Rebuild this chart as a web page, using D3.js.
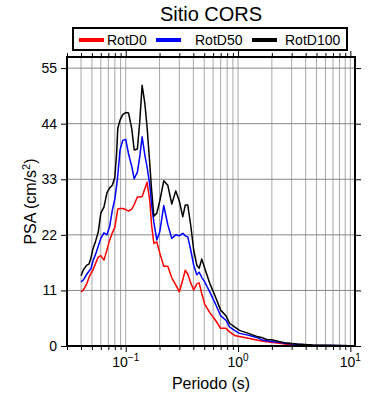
<!DOCTYPE html>
<html>
<head>
<meta charset="utf-8">
<script src="https://cdn.jsdelivr.net/npm/d3@7"></script>
<style>
body { margin: 0; background: #fff; }
text { font-family: "Liberation Sans", Arial, sans-serif; }
</style>
</head>
<body>
<script>
// periodos (s) y PSA (cm/s2)
var periods = [0.040, 0.042, 0.045, 0.047, 0.049, 0.051, 0.054, 0.057, 0.060, 0.064,
    0.068, 0.072, 0.076, 0.080, 0.083, 0.085, 0.089, 0.094, 0.100, 0.106,
    0.113, 0.119, 0.127, 0.133, 0.140, 0.148, 0.155, 0.164, 0.170, 0.178,
    0.189, 0.201, 0.218, 0.237, 0.257, 0.279, 0.300, 0.322, 0.339, 0.357,
    0.379, 0.403, 0.429, 0.451, 0.475, 0.505, 0.56, 0.63, 0.70, 0.78,
    0.84, 0.93, 1.03, 1.2, 1.47, 1.62, 1.8, 2.04, 2.35, 2.6,
    3.33, 4.6, 6.5, 10];

var rotd0 = [10.7, 11.1, 12.3, 13.5, 14.4, 15.0, 16.4, 17.6, 17.9, 17.0,
    19.0, 21.0, 22.4, 23.5, 25.7, 27.1, 27.2, 27.2, 27.0, 26.7,
    27.1, 28.0, 29.5, 29.5, 29.6, 31.1, 32.4, 28.6, 23.9, 20.3,
    20.6, 18.4, 15.8, 15.8, 13.5, 12.1, 10.7, 13.1, 15.0, 14.2,
    12.5, 11.1, 12.3, 12.5, 10.4, 8.3, 6.6, 5.1, 3.5, 3.5,
    2.8, 2.1, 1.9, 1.6, 1.2, 1.0, 0.85, 0.7, 0.53, 0.4,
    0.16, 0.08, 0.04, 0.02];

var rotd50 = [12.7, 13.1, 14.2, 14.8, 15.3, 16.8, 18.2, 19.8, 21.3, 22.4,
    22.0, 23.7, 26.9, 29.1, 31.7, 33.8, 38.8, 40.7, 40.9, 38.0,
    35.6, 33.1, 34.4, 37.3, 41.4, 37.8, 35.4, 31.8, 27.9, 24.5,
    21.0, 22.6, 27.8, 24.0, 21.3, 22.0, 21.8, 22.3, 21.8, 21.6,
    19.0, 16.0, 14.1, 14.6, 13.6, 12.7, 10.7, 8.3, 6.0, 5.1,
    3.8, 3.1, 2.5, 2.2, 1.7, 1.25, 1.05, 0.85, 0.73, 0.53,
    0.34, 0.14, 0.08, 0.04];

var rotd100 = [13.9, 15.1, 16.0, 16.2, 17.4, 19.2, 20.8, 22.6, 26.3, 27.5,
    30.3, 31.3, 31.8, 33.4, 38.2, 43.1, 44.7, 45.8, 46.2, 46.1,
    43.1, 38.8, 39.0, 44.1, 51.6, 48.0, 43.3, 35.8, 30.9, 25.7,
    26.3, 28.7, 32.7, 31.8, 28.1, 30.7, 28.7, 25.6, 27.9, 27.9,
    23.9, 19.0, 16.0, 15.4, 17.2, 15.4, 12.4, 9.7, 7.1, 6.0,
    4.5, 3.8, 3.1, 2.6, 1.9, 1.7, 1.3, 1.2, 0.85, 0.65,
    0.4, 0.2, 0.14, 0.06];

var seriesNames = ["RotD0", "RotD50", "RotD100"];
var seriesColors = ["red", "blue", "black"];
var yTicks = [0, 11, 22, 33, 44, 55];
var xMajor = [0.1, 1, 10];
var xMajorExp = ["\u22121", "0", "1"];

var W = 390, H = 400;
var pL = 67, pR = 355, pT = 57, pB = 346;

var svg = d3.select("body").append("svg")
    .attr("width", W)
    .attr("height", H);

var x = d3.scaleLog().domain([0.03, 11]).range([pL, pR]);
var y = d3.scaleLinear().domain([0, 57.2]).range([pB, pT]);

// todas las divisiones de la escala log
var xMinor = [];
[0.01, 0.1, 1, 10].forEach(function(dec) {
    for (var k = 1; k <= 9; k++) {
        var v = +(dec * k).toPrecision(3);
        if (v >= 0.03 && v <= 11) xMinor.push(v);
    }
});

// grilla
svg.append("g").selectAll("line")
    .data(xMinor)
    .enter().append("line")
    .attr("x1", function(d) { return x(d); })
    .attr("x2", function(d) { return x(d); })
    .attr("y1", pT)
    .attr("y2", pB)
    .attr("stroke", "#a8a8a8")
    .attr("stroke-width", 1);

svg.append("g").selectAll("line")
    .data(yTicks.slice(1))
    .enter().append("line")
    .attr("x1", pL)
    .attr("x2", pR)
    .attr("y1", function(d) { return y(d); })
    .attr("y2", function(d) { return y(d); })
    .attr("stroke", "#888")
    .attr("stroke-width", 1);

// curvas
var line = d3.line()
    .x(function(d) { return x(d[0]); })
    .y(function(d) { return y(d[1]); });

[rotd0, rotd50, rotd100].forEach(function(vals, i) {
    svg.append("path")
        .datum(periods.map(function(p, j) { return [p, vals[j]]; }))
        .attr("d", line)
        .attr("fill", "none")
        .attr("stroke", seriesColors[i])
        .attr("stroke-width", 1.5)
        .attr("stroke-linejoin", "round");
});

// ejes
function isMajor(d) { return xMajor.indexOf(d) >= 0; }

var gx = svg.append("g")
    .attr("transform", "translate(0," + pB + ")")
    .call(d3.axisBottom(x).tickValues(xMinor).tickSize(4).tickFormat(""));
var gxt = svg.append("g")
    .attr("transform", "translate(0," + pT + ")")
    .call(d3.axisTop(x).tickValues(xMinor).tickSize(4).tickFormat(""));
[gx, gxt].forEach(function(g) {
    g.select(".domain").remove();
    g.selectAll(".tick line")
        .attr("stroke", "#000")
        .attr("y2", function(d) {
            var s = g === gx ? 1 : -1;
            return s * (isMajor(d) ? 6 : 4);
        });
});

var gy = svg.append("g")
    .attr("transform", "translate(" + pL + ",0)")
    .call(d3.axisLeft(y).tickValues(yTicks).tickSize(6).tickPadding(4));
var gyr = svg.append("g")
    .attr("transform", "translate(" + pR + ",0)")
    .call(d3.axisRight(y).tickValues(yTicks).tickSize(6).tickFormat(""));
[gy, gyr].forEach(function(g) {
    g.select(".domain").remove();
    g.selectAll(".tick line").attr("stroke", "#000");
});
gy.selectAll(".tick text")
    .attr("font-family", "Liberation Sans, Arial, sans-serif")
    .attr("font-size", 14)
    .attr("fill", "#000");

// etiquetas 10^n
var xl = svg.append("g").selectAll("text")
    .data(xMajor)
    .enter().append("text")
    .attr("x", function(d) { return x(d); })
    .attr("y", 367)
    .attr("text-anchor", "middle")
    .attr("font-size", 14);
xl.append("tspan").text("10");
xl.append("tspan")
    .attr("dy", -6)
    .attr("font-size", 10)
    .text(function(d, i) { return xMajorExp[i]; });

// marco
svg.append("rect")
    .attr("x", pL)
    .attr("y", pT)
    .attr("width", pR - pL)
    .attr("height", pB - pT)
    .attr("fill", "none")
    .attr("stroke", "#000")
    .attr("stroke-width", 2);

// titulos
svg.append("text")
    .attr("x", 211)
    .attr("y", 21)
    .attr("text-anchor", "middle")
    .attr("font-size", 20)
    .text("Sitio CORS");

svg.append("text")
    .attr("x", 211)
    .attr("y", 389)
    .attr("text-anchor", "middle")
    .attr("font-size", 16)
    .text("Periodo (s)");

var yl = svg.append("text")
    .attr("transform", "translate(36," + ((pT + pB) / 2) + ") rotate(-90)")
    .attr("text-anchor", "middle")
    .attr("font-size", 16);
yl.append("tspan").text("PSA (cm/s");
yl.append("tspan").attr("dy", -6).attr("font-size", 11).text("2");
yl.append("tspan").attr("dy", 6).text(")");

// leyenda
var legX = [79, 156, 252];
var legTextX = [107, 195, 285];
svg.append("rect")
    .attr("x", 73)
    .attr("y", 28)
    .attr("width", 274)
    .attr("height", 22)
    .attr("fill", "#fff")
    .attr("stroke", "#000")
    .attr("stroke-width", 2);

var leg = svg.append("g").selectAll("g")
    .data(seriesNames)
    .enter().append("g");
leg.append("line")
    .attr("x1", function(d, i) { return legX[i]; })
    .attr("x2", function(d, i) { return legX[i] + 25; })
    .attr("y1", 40)
    .attr("y2", 40)
    .attr("stroke", function(d, i) { return seriesColors[i]; })
    .attr("stroke-width", 4);
leg.append("text")
    .attr("x", function(d, i) { return legTextX[i]; })
    .attr("y", 45)
    .attr("font-size", 14)
    .text(function(d) { return d; });
</script>
</body>
</html>
